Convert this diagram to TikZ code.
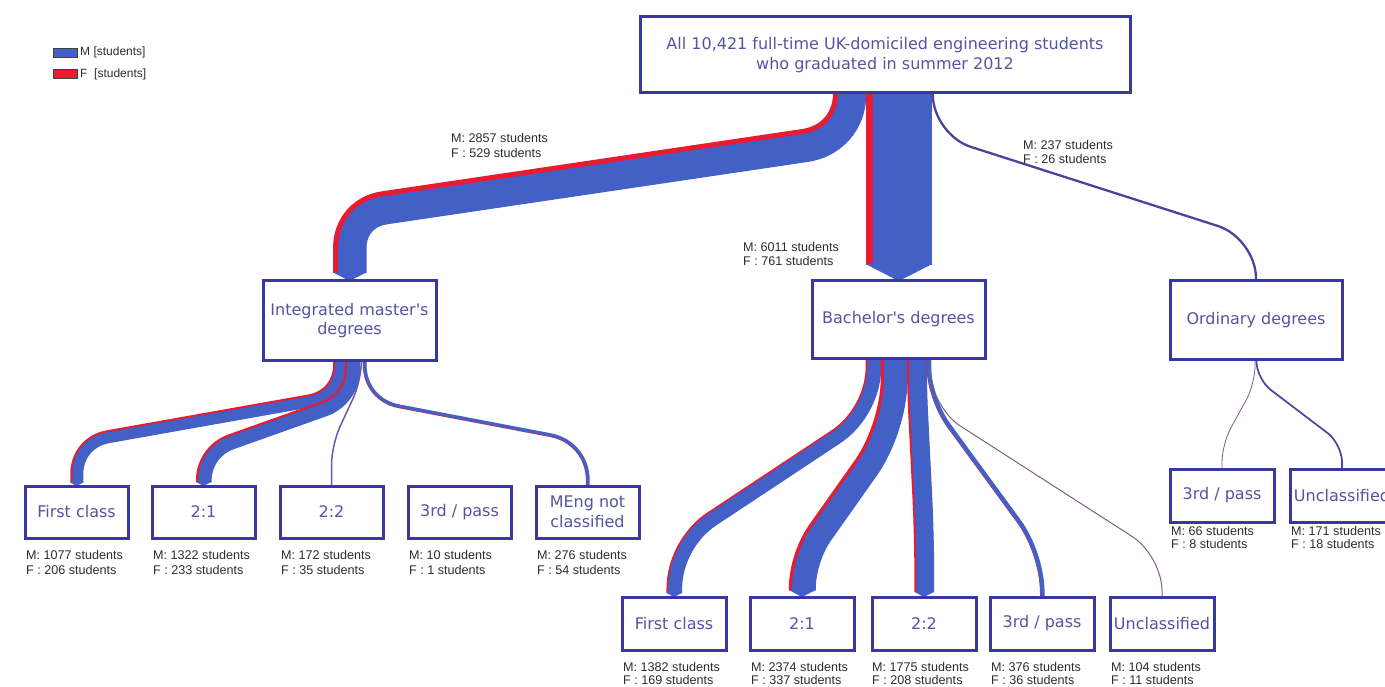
\documentclass[tikz,border=0pt]{standalone}
\usepackage{fontspec}
\setmainfont{DejaVu Sans}
\newfontfamily\labfont{Liberation Sans}
\usetikzlibrary{calc}
\pgfdeclarelayer{bg}
\pgfsetlayers{bg,main}
\definecolor{mblue}{RGB}{66,96,198}
\definecolor{fred}{RGB}{232,28,48}
\definecolor{boxblue}{RGB}{56,56,162}
\definecolor{boxtext}{RGB}{84,84,162}
\definecolor{labgray}{RGB}{45,45,45}
\definecolor{thinpurple}{RGB}{78,66,160}
\definecolor{lightpurple}{RGB}{110,86,168}
\definecolor{hairline}{RGB}{125,95,130}
\newcommand\apos{\XeTeXglyph\XeTeXcharglyph"0027\relax}
\tikzset{
  box/.style={draw=boxblue, line width=3pt, fill=white, text=boxtext,
    font=\fontsize{16}{19.5}\selectfont, align=center, inner sep=0pt, outer sep=0pt},
  lab/.style={font=\labfont\fontsize{12.6}{#1}\selectfont, text=labgray,
    align=left, inner sep=0pt, anchor=north west},
  lab/.default=15,
  mband/.style={draw=mblue},
  fband/.style={draw=fred},
  tipfill/.style={fill=mblue},
  thinlink/.style={draw=thinpurple},
  lightlink/.style={draw=lightpurple},
  hair/.style={draw=hairline},
  legbox/.style={draw=black!75, line width=0.6pt, minimum width=24pt,
    minimum height=9pt, inner sep=0pt},
}
% one stroke of a band: #1 style, #2 x shift, #3 y shift, #4 tangent at first bend, #5 tangent at second bend
\newcommand\bandstroke[5]{%
  \draw[#1] ($(bA)+(#2,0)$) -- ($(bB)+(#2,#3)+(0,-#4)$)
    .. controls ($(bB)+(#2,#3)+(0,{-0.4*#4})$) and ($(bB)+(#2,#3)+({0.4*#4*\bdx},{0.4*#4*\bdy})$) ..
    ($(bB)+(#2,#3)+({#4*\bdx},{#4*\bdy})$)
    -- ($(bC)+(#2,#3)+({-#5*\bdx},{-#5*\bdy})$)
    .. controls ($(bC)+(#2,#3)+({-0.4*#5*\bdx},{-0.4*#5*\bdy})$) and ($(bC)+(#2,#3)+(0,{0.4*#5})$) ..
    ($(bC)+(#2,#3)+(0,#5)$) -- ($(bD)+(#2,0)$);
}
% band: #1 source, #2 target, #3 drop a, #4 rise b, #5 M width, #6 F width, #7 first tangent, #8 second tangent
\newcommand\band[8]{%
  \pgfmathsetmacro\bW{#5+#6}%
  \pgfmathsetmacro\bE{#6/2+0.3}%
  \pgfmathsetmacro\bM{#5+0.6}%
  \pgfmathsetmacro\bH{\bW/4}%
  \pgfmathsetmacro\bHW{\bW/2}%
  \coordinate (bA) at (#1);
  \coordinate (bT) at (#2);
  \coordinate (bB) at ($(bA)+(0,#3)$);
  \coordinate (bC) at ($(bT)+(0,-#4)$);
  \coordinate (bD) at ($(bT)+(0,-\bH)$);
  \path (bB); \pgfgetlastxy{\bBx}{\bBy}%
  \path (bC); \pgfgetlastxy{\bCx}{\bCy}%
  \pgfmathsetmacro\bL{veclen(\bCx-\bBx,\bCy-\bBy)}%
  \pgfmathsetmacro\bdx{(\bCx-\bBx)/\bL}%
  \pgfmathsetmacro\bdy{(\bBy-\bCy)/\bL}%
  \pgfmathsetmacro\bmy{-\bE*\bdx/(1+\bdy)}%
  \pgfmathsetmacro\tBb{#7+\bmy}%
  \pgfmathsetmacro\tCb{#8-\bmy}%
  \bandstroke{fband, line width=\bW pt}{0}{0}{#7}{#8}
  \bandstroke{mband, line width=\bM pt}{\bE}{\bmy}{\tBb}{\tCb}
  \fill[tipfill] ($(bD)+(-\bHW,-0.4)$) -- ($(bD)+(\bHW+0.6,-0.4)$) -- (bT) -- cycle;
}
% straight vertical band: #1 source, #2 target, #3 M width, #4 F width
\newcommand\vband[4]{%
  \pgfmathsetmacro\bW{#3+#4}%
  \pgfmathsetmacro\bE{#4/2+0.3}%
  \pgfmathsetmacro\bM{#3+0.6}%
  \pgfmathsetmacro\bH{\bW/4}%
  \pgfmathsetmacro\bHW{\bW/2}%
  \coordinate (bA) at (#1);
  \coordinate (bT) at (bA |- #2);
  \coordinate (bD) at ($(bT)+(0,-\bH)$);
  \draw[fband, line width=\bW pt] (bA) -- (bD);
  \draw[mband, line width=\bM pt] ($(bA)+(\bE,0)$) -- ($(bD)+(\bE,0)$);
  \fill[tipfill] ($(bD)+(-\bHW,-0.4)$) -- ($(bD)+(\bHW+0.6,-0.4)$) -- (bT) -- cycle;
}
% thin link: #1 style, #2 source, #3 target, #4 a, #5 b, #6 radius
\newcommand\tlink[6]{%
  \draw[#1, rounded corners=#6pt] (#2) -- ++(0,#4) -- ($(#3)+(0,-#5)$) -- (#3);
}
\begin{document}
\begin{tikzpicture}[x=1pt,y=-1pt]
\useasboundingbox (0,0) rectangle (1385,687);

% legend
\node[legbox, fill=mblue] (legM) at (65,52.5) {};
\node[legbox, fill=fred] (legF) at (65,73.5) {};
\node[font=\labfont\fontsize{12}{14}\selectfont, text=labgray, anchor=west, inner sep=0pt] (legMt) at (80,52.5) {M [students]};
\node[font=\labfont\fontsize{12}{14}\selectfont, text=labgray, anchor=west, inner sep=0pt] (legFt) at (80,74) {F\ \ [students]};

% boxes
\node[box, minimum width=490pt, minimum height=76pt] (top) at (885,55)
  {All 10,421 full-time UK-domiciled engineering students\\who graduated in summer 2012};
\node[box, minimum width=173pt, minimum height=79pt] (im) at (349.5,320.5)
  {Integrated master\apos s\\degrees};
\node[box, minimum width=173pt, minimum height=77pt] (ba) at (898.5,319.5)
  {Bachelor\apos s degrees};
\node[box, minimum width=172pt, minimum height=78pt] (od) at (1256,320)
  {Ordinary degrees};

\node[box, minimum width=103pt, minimum height=52pt] (imfc) at (76.5,512) {First class};
\node[box, minimum width=103pt, minimum height=52pt] (imtwoone) at (203.5,512) {2:1};
\node[box, minimum width=103pt, minimum height=52pt] (imtwotwo) at (331.5,512) {2:2};
\node[box, minimum width=103pt, minimum height=52pt] (imthird) at (459.5,512) {3rd / pass};
\node[box, minimum width=103pt, minimum height=52pt] (immeng) at (587.5,512) {MEng not\\classified};

\node[box, minimum width=104pt, minimum height=53pt] (bafc) at (674,623.5) {First class};
\node[box, minimum width=104pt, minimum height=53pt] (batwoone) at (802,623.5) {2:1};
\node[box, minimum width=104pt, minimum height=53pt] (batwotwo) at (924,623.5) {2:2};
\node[box, minimum width=104pt, minimum height=53pt] (bathird) at (1042,623.5) {3rd / pass};
\node[box, minimum width=104pt, minimum height=53pt] (baun) at (1162,623.5) {Unclassified};

\node[box, minimum width=104pt, minimum height=53pt] (odthird) at (1222,495.5) {3rd / pass};
\node[box, minimum width=104pt, minimum height=53pt] (odun) at (1342,495.5) {Unclassified};

% connector labels
\node[lab=15] (lim) at (451,133.5) {M: 2857 students\\F : 529 students};
\node[lab=13.5] (lba) at (743,242.5) {M: 6011 students\\F : 761 students};
\node[lab=14.5] (lod) at (1023,140) {M: 237 students\\F : 26 students};

% box labels
\node[lab=15] (limfc) at (26,550.4) {M: 1077 students\\F : 206 students};
\node[lab=15] (limtwoone) at (153,550.4) {M: 1322 students\\F : 233 students};
\node[lab=15] (limtwotwo) at (281,550.4) {M: 172 students\\F : 35 students};
\node[lab=15] (limthird) at (409,550.4) {M: 10 students\\F : 1 students};
\node[lab=15] (limmeng) at (537,550.4) {M: 276 students\\F : 54 students};

\node[lab=13] (lbafc) at (623,662.4) {M: 1382 students\\F : 169 students};
\node[lab=13] (lbatwoone) at (751,662.4) {M: 2374 students\\F : 337 students};
\node[lab=13] (lbatwotwo) at (872,662.4) {M: 1775 students\\F : 208 students};
\node[lab=13] (lbathird) at (991,662.4) {M: 376 students\\F : 36 students};
\node[lab=13] (lbaun) at (1111,662.4) {M: 104 students\\F : 11 students};

\node[lab=12.5] (lodthird) at (1171,526.4) {M: 66 students\\F : 8 students};
\node[lab=12.5] (lodun) at (1291,526.4) {M: 171 students\\F : 18 students};

\begin{pgfonlayer}{bg}
  \fill[white] (0,0) rectangle (1385,687);
  % level 1
  \band{$(top.south)+(-35.6,0)$}{im.north}{45.6}{68.3}{27.7}{5.1}{45}{35}
  \vband{$(top.south)+(13.6,0)$}{ba.north}{58.3}{7.4}
  \tlink{thinlink, line width=2.3pt}{$(top.south)+(47.8,0)$}{od.north}{41.7}{42.8}{40}
  % integrated master's
  \band{$(im.south)+(-10.2,0)$}{imfc.north}{35.3}{44}{10.45}{2.0}{30}{32}
  \band{$(im.south)+(2.8,0)$}{imtwoone.north}{38.4}{34.7}{12.82}{2.26}{30}{29}
  \tlink{lightlink, line width=1.5pt}{$(im.south)+(12.1,0)$}{imtwotwo.north}{20}{41}{20}
  \band{$(im.south)+(14.9,0)$}{immeng.north}{40}{43.5}{2.68}{0.52}{35}{38}
  % bachelor's
  \band{$(ba.south)+(-25.3,0)$}{bafc.north}{53.7}{53.4}{13.4}{1.64}{45}{45}
  \band{$(ba.south)+(-4.6,0)$}{batwoone.north}{69.7}{39.3}{23.03}{3.27}{50}{31}
  \band{$(ba.south)+(18.1,0)$}{batwotwo.north}{30}{60}{17.2}{2.02}{25}{40}
  \band{$(ba.south)+(29.7,0)$}{bathird.north}{40}{43.6}{3.65}{0.35}{35}{40}
  \tlink{hair, line width=1pt}{$(ba.south)+(32.3,0)$}{baun.north}{49}{41.3}{35}
  % ordinary
  \tlink{hair, line width=0.8pt}{$(od.south)+(-1,0)$}{odthird.north}{25}{25}{18}
  \tlink{thinlink, line width=1.7pt}{$(od.south)+(0.4,0)$}{odun.north}{20}{25}{18}
\end{pgfonlayer}
\end{tikzpicture}
\end{document}
